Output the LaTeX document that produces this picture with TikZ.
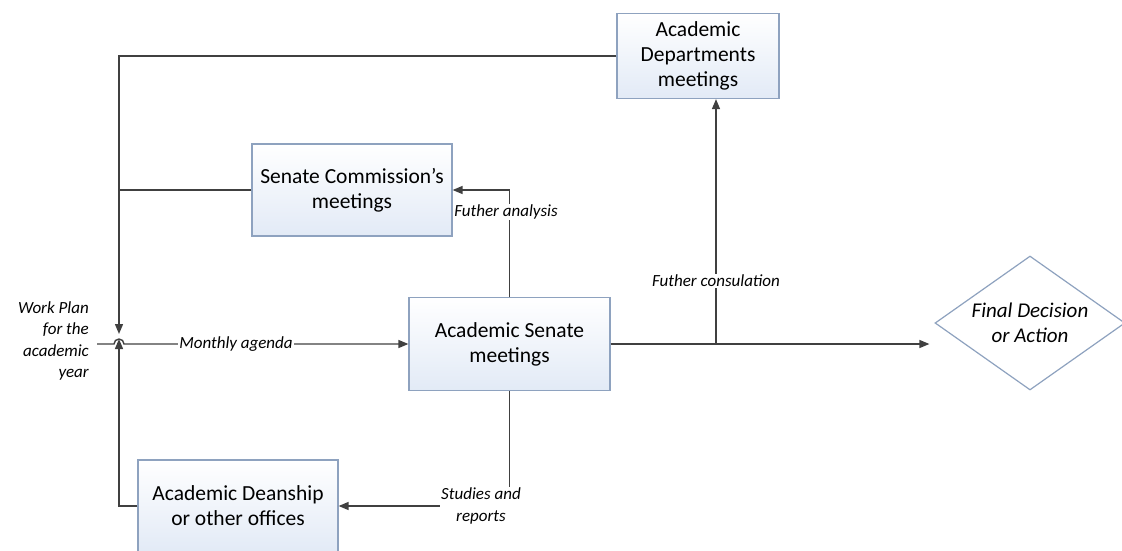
\documentclass[tikz,border=0pt]{standalone}
\usepackage{fontspec}
\setmainfont{Carlito}
\usetikzlibrary{arrows.meta,shapes.geometric}
\usepackage{xcolor}

\definecolor{boxline}{HTML}{8EA2BF}
\definecolor{boxfill}{HTML}{E2EAF6}
\definecolor{wire}{HTML}{404040}

\tikzset{
  meetbox/.style={draw=boxline, line width=1.2pt, top color=white, bottom color=boxfill,
    minimum width=200pt, minimum height=92pt, align=center, inner sep=2pt,
    font=\fontsize{21.5}{25}\selectfont},
  flow/.style={draw=wire, line width=1.4pt},
  tip/.style={-{Triangle[length=10pt,width=8pt]}},
  lbl/.style={fill=white, inner sep=1pt, align=center,
    font=\fontsize{17}{22}\selectfont\itshape},
}

\begin{document}
\begin{tikzpicture}[x=1pt,y=-1pt]
        \useasboundingbox (0,0) rectangle (1122,550);
        % boxes
        \node[meetbox, minimum width=162pt, minimum height=85pt] (dept) at (698,56) {Academic\\Departments\\meetings};
        \node[meetbox] (comm) at (352,190) {Senate Commission’s\\meetings};
        \node[meetbox, minimum width=201pt, minimum height=93pt] (senate) at (509.5,344) {Academic Senate\\meetings};
        \node[meetbox] (dean) at (238,506) {Academic Deanship\\or other offices};
        \node[diamond, draw=boxline, line width=1.2pt, fill=white, shape aspect=1.4, inner sep=0pt,
              minimum width=190pt, minimum height=134pt, align=center,
              font=\fontsize{21}{25}\selectfont\itshape] (final) at (1030,323) {Final Decision\\or Action};
        \node[anchor=east, align=right, inner sep=0pt, font=\fontsize{17}{21.5}\selectfont\itshape]
              (plan) at (89,341) {Work Plan\\for the\\academic\\year};

        \coordinate (start) at (97,344);
        \coordinate (hop) at (119,344);
        \coordinate (branch) at (716,344);

        % feedback lines into the agenda
        \draw[flow,tip] (dept.west) -- (dept.west -| hop) -- ([yshift=10pt]hop);
        \draw[flow] (comm.west) -- (comm.west -| hop);
        \draw[flow,tip] (dean.west) -- (dean.west -| hop) -- ([yshift=5pt]hop);
        \draw[flow,tip] (start) -- ([xshift=-5pt]hop) arc[start angle=180, end angle=0, radius=5pt] -- (senate.west);

        % out of the senate
        \draw[flow,tip] (senate.east) -- ([xshift=-5pt]senate.east -| final.west);
        \draw[flow,tip] (branch) -- (branch |- dept.south);
        \draw[flow,tip] (senate.north) |- (comm.east);
        \draw[flow,tip] (senate.south) |- (dean.east);

        % labels
        \node[lbl] at (236,344) {Monthly agenda};
        \node[lbl] at (716,281) {Futher consulation};
        \node[lbl] at (506,212) {Futher analysis};
        \node[lbl] at (481,506) {Studies and\\reports};
\end{tikzpicture}
\end{document}
